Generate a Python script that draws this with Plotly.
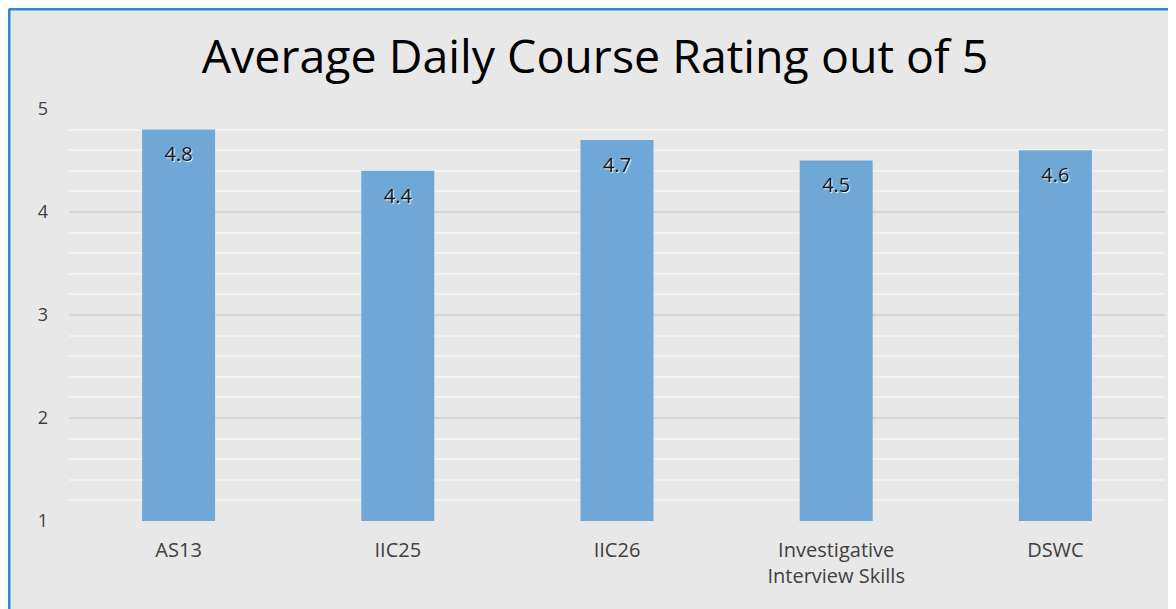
import plotly.graph_objects as go

categories = ["AS13", "IIC25", "IIC26", "Investigative<br>Interview Skills", "DSWC"]
ratings = [4.8, 4.4, 4.7, 4.5, 4.6]
labels = ["4.8", "4.4", "4.7", "4.5", "4.6"]
y_ticks = [1, 2, 3, 4, 5]

# page body adds an 8px offset; figure sized to fill the rest of the 1176x609 window
W, H = 1168, 601
ml, mr, mt, mb = 61, 11, 101, 88
pw = W - ml - mr
ph = H - mt - mb

fig = go.Figure()
fig.add_trace(go.Bar(
    x=categories, y=[r - 1 for r in ratings], base=1,
    marker=dict(color="#6FA8D6", line=dict(width=0)),
    width=0.333, hoverinfo="skip",
))
fig.add_trace(go.Scatter(
    x=categories, y=[r - 0.26 for r in ratings], mode="text", text=labels,
    textposition="middle center",
    textfont=dict(family="Open Sans", size=20, color="#141414", shadow="1px 1px 1px white"),
    hoverinfo="skip",
))

fig.update_layout(
    width=W, height=H,
    margin=dict(l=ml, r=mr, t=mt, b=mb),
    paper_bgcolor="#E8E8E8", plot_bgcolor="#E8E8E8",
    showlegend=False,
    title=dict(text="Average Daily Course Rating out of 5", x=(595 - 8) / W, xanchor="center",
               y=1 - 49 / H, yanchor="middle",
               font=dict(family="Open Sans", size=46.5, color="#000000")),
    font=dict(family="Open Sans", color="#404040"),
)
fig.update_xaxes(showgrid=False, showline=False, ticks="",
                 tickfont=dict(size=20, color="#404040"), range=[-0.5, 4.5],
                 ticklabelstandoff=15)
fig.update_yaxes(range=[1, 5], tickvals=y_ticks, ticks="", showline=False, zeroline=False,
                 gridcolor="#D6D6D6", gridwidth=1.5,
                 minor=dict(dtick=0.2, showgrid=True, gridcolor="#F2F2F2", gridwidth=1.5),
                 tickfont=dict(size=18, color="#404040"), ticklabelstandoff=20)

# blue border on top and left
fig.add_shape(type="line", xref="paper", yref="paper",
              x0=-(ml - 1) / pw, x1=(W - ml) / pw, y0=1 + (mt - 1) / ph, y1=1 + (mt - 1) / ph,
              line=dict(color="#2F88D3", width=3))
fig.add_shape(type="line", xref="paper", yref="paper",
              x0=-(ml - 1) / pw, x1=-(ml - 1) / pw, y0=1 + (mt - 1) / ph, y1=-mb / ph,
              line=dict(color="#2F88D3", width=3))

fig.write_html("out.html")
